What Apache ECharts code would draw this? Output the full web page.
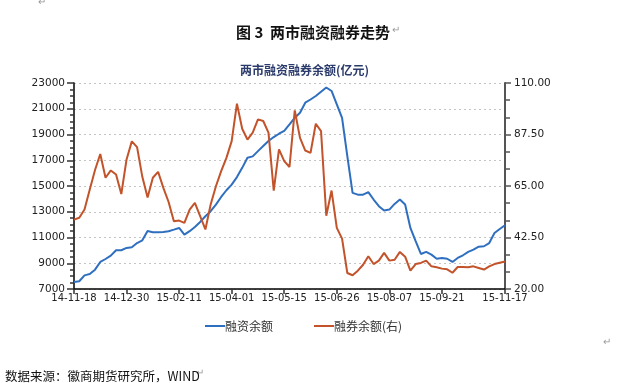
<!DOCTYPE html>
<html>
<head>
<meta charset="utf-8">
<script src="https://cdn.jsdelivr.net/npm/echarts@6/dist/echarts.min.js"></script>
<style>
html,body{margin:0;padding:0;background:#fff;}
#c{width:640px;height:383px;}
</style>
</head>
<body>
<div id="c"></div>
<script>
// Tick labels on the x axis (trading days, sampled every 3 trading days)
const tickLabels = ['14-11-18','14-12-30','15-02-11','15-04-01','15-05-15','15-06-26','15-08-07','15-09-21','15-11-17'];
const tickIdx = [0,10,20,30,40,50,60,70,82];

// 融资余额 (left axis, 亿元)
const financing = [
  7550, 7600, 8060, 8160, 8500, 9100, 9330, 9590, 10010, 10010,
  10190, 10240, 10570, 10780, 11500, 11410, 11410, 11430, 11490, 11610,
  11740, 11220, 11490, 11820, 12210, 12650, 13040, 13550, 14150, 14670,
  15110, 15690, 16410, 17190, 17300, 17710, 18100, 18490, 18800, 19060,
  19280, 19780, 20300, 20690, 21470, 21720, 21990, 22320, 22650, 22380,
  21340, 20300, 17320, 14470, 14330, 14330, 14520, 13950, 13430, 13090,
  13170, 13610, 13950, 13560, 11740, 10710, 9720, 9880, 9670, 9350,
  9410, 9350, 9100, 9410, 9620, 9880, 10060, 10290, 10320, 10570,
  11350, 11660, 11950
];

// 融券余额 (right axis, 亿元)
const shortSelling = [
  50.3, 51.1, 54.7, 63.5, 72.0, 79.0, 68.6, 71.8, 70.0, 61.5,
  76.6, 84.5, 82.0, 69.0, 60.0, 68.6, 71.2, 64.2, 58.0, 49.6,
  49.9, 48.9, 54.7, 57.6, 51.8, 46.0, 56.9, 64.9, 71.5, 77.3,
  84.6, 101.0, 90.0, 85.3, 88.3, 94.1, 93.4, 88.3, 63.0, 81.0,
  75.9, 73.3, 98.0, 86.0, 80.5, 79.5, 92.2, 89.0, 52.0, 63.0,
  46.7, 42.0, 27.0, 26.0, 28.0, 30.6, 34.3, 30.9, 32.4, 35.8,
  32.4, 32.8, 36.2, 34.1, 28.0, 30.9, 31.4, 32.4, 29.9, 29.5,
  28.9, 28.6, 27.1, 29.6, 29.6, 29.5, 29.9, 29.2, 28.5, 29.9,
  30.9, 31.5, 32.0
];

const categories = financing.map((_, i) => 'd' + i);

const numFont = 'DejaVu Sans';
const cjkFont = '"Noto Sans CJK SC", "Noto Sans", sans-serif';

const chart = echarts.init(document.getElementById('c'), null, {renderer: 'canvas'});
chart.setOption({
  animation: false,
  backgroundColor: '#ffffff',
  title: [
    {text: '图 3  两市融资融券走势', left: 231, top: 20,
      textStyle: {fontFamily: cjkFont, fontSize: 15, fontWeight: 'bold', color: '#111'}},
    {text: '两市融资融券余额(亿元)', left: 235, top: 59,
      textStyle: {fontFamily: cjkFont, fontSize: 12, fontWeight: 'bold', color: '#2a3a6a'}},
    {text: '数据来源：徽商期货研究所，WIND', left: 0, top: 365,
      textStyle: {fontFamily: cjkFont, fontSize: 12.5, fontWeight: 'normal', color: '#111'}}
  ],
  graphic: [
    {type: 'text', left: 38, top: -3, style: {text: '↵', fill: '#999', fontSize: 10}},
    {type: 'text', left: 392, top: 25, style: {text: '↵', fill: '#999', fontSize: 10}},
    {type: 'text', left: 603, top: 337, style: {text: '↵', fill: '#999', fontSize: 10}},
    {type: 'text', left: 196, top: 368, style: {text: '↵', fill: '#999', fontSize: 10}}
  ],
  legend: {
    left: 200, top: 315, icon: 'rect', itemWidth: 20, itemHeight: 2, itemGap: 41,
    textStyle: {fontFamily: cjkFont, fontSize: 12, color: '#333', padding: [0,0,0,-5]},
    data: ['融资余额', '融券余额(右)']
  },
  grid: {left: 74, right: 135, top: 83, bottom: 94},
  xAxis: {
    type: 'category', data: categories, boundaryGap: false,
    axisLine: {show: true, lineStyle: {color: '#000', width: 1.5}},
    axisTick: {show: true, length: 5, interval: (i) => tickIdx.includes(i),
      lineStyle: {color: '#333', width: 1.5}},
    axisLabel: {interval: (i) => tickIdx.includes(i),
      formatter: (v, i) => tickLabels[tickIdx.indexOf(i)] || '',
      fontFamily: numFont, fontSize: 10, color: '#222', margin: 4}
  },
  yAxis: [
    {
      type: 'value', min: 7000, max: 23000, interval: 2000,
      axisLine: {show: true, lineStyle: {color: '#000', width: 1.5}},
      axisTick: {show: true, length: 7, lineStyle: {color: '#333', width: 1.5}},
      minorTick: {show: true, splitNumber: 4, length: 4, lineStyle: {color: '#333', width: 1.5}},
      axisLabel: {fontFamily: numFont, fontSize: 10.5, color: '#222', margin: 9,
        formatter: (v) => String(Math.round(v))},
      splitLine: {show: true, lineStyle: {color: '#c4c4c4', type: [2, 3]}}
    },
    {
      type: 'value', min: 20, max: 110, interval: 22.5,
      axisLine: {show: true, lineStyle: {color: '#555', width: 2}},
      axisTick: {show: true, length: 6, lineStyle: {color: '#555', width: 1.5}},
      minorTick: {show: true, splitNumber: 3, length: 5, lineStyle: {color: '#555', width: 1.5}},
      axisLabel: {fontFamily: numFont, fontSize: 10.5, color: '#222', margin: 9,
        formatter: (v) => v.toFixed(2)},
      splitLine: {show: false}
    }
  ],
  series: [
    {name: '融资余额', type: 'line', yAxisIndex: 0, data: financing,
      symbol: 'none', lineStyle: {color: '#2f6fbf', width: 2}, itemStyle: {color: '#2f6fbf'}},
    {name: '融券余额(右)', type: 'line', yAxisIndex: 1, data: shortSelling,
      symbol: 'none', lineStyle: {color: '#c2532a', width: 2}, itemStyle: {color: '#c2532a'}}
  ]
});
</script>
</body>
</html>
